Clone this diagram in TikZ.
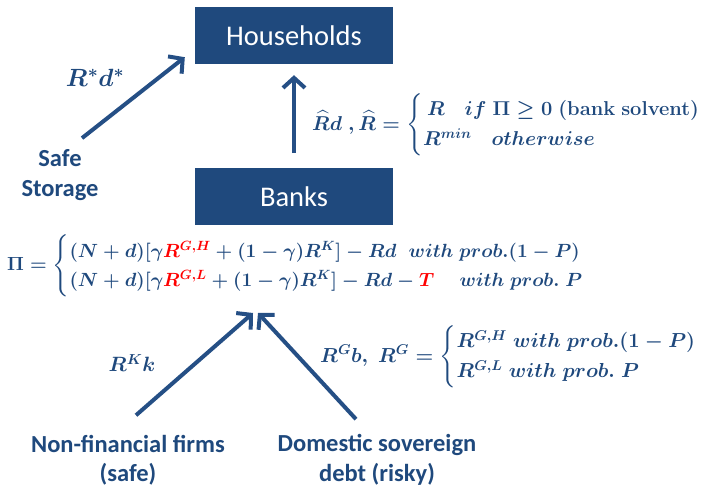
\RequirePackage{fix-cm}
\documentclass[tikz,border=0pt]{standalone}
\usepackage{fontspec}
\usepackage{amsmath}
\usepackage{xcolor}
\newfontfamily\calibri{Carlito}
\definecolor{navy}{RGB}{31,73,125}
\definecolor{arrowblue}{RGB}{37,79,133}
\usetikzlibrary{arrows.meta, positioning}

\begin{document}
\begin{tikzpicture}[
    x=1pt, y=1pt,
    agent/.style={rectangle, fill=navy, text=white, minimum width=198pt, minimum height=57pt, font=\calibri\fontsize{28.5}{30}\selectfont},
    source/.style={text=navy, align=center, font=\calibri\bfseries\fontsize{24.5}{29.5}\selectfont},
    eq/.style={text=navy, inner sep=0pt, font=\fontsize{20.3}{25}\selectfont\boldmath},
    arrow/.style={line width=4pt, draw=arrowblue, -{Straight Barb[length=10pt,width=22pt]}}
]
    \useasboundingbox (0,0) rectangle (708,487);
    \node[agent] (households) at (294,451.5) {Households};
    \node[agent, below=104pt of households] (banks) {Banks};
    \node[source] (storage) at (60,312) {Safe\\Storage};
    \node[source] (firms) at (128,27) {Non-financial firms\\(safe)};
    \node[source] (sovereign) at (377,27) {Domestic sovereign\\debt (risky)};

    % Returns
    \node[eq, anchor=west, font=\fontsize{19.1}{24}\selectfont\boldmath] (payoff) at (7,221) {$\Pi = \begin{cases} (N+d)[\gamma {\color{red}R^{G,H}} + (1-\gamma)R^{K}] - Rd\;\; with\ prob.(1-P) \\ (N+d)[\gamma {\color{red}R^{G,L}} + (1-\gamma)R^{K}] - Rd - {\color{red}T}\quad\; with\ prob.\ P \end{cases}$};
    \node[eq, anchor=west, font=\fontsize{20.1}{25}\selectfont\boldmath] (deposit) at (312,362) {$\widehat{R}d\ ,\widehat{R} = \begin{cases} \,R\quad if\ \Pi \geq 0\ \mathbf{(bank\ solvent)} \\ R^{min}\quad otherwise \end{cases}$};
    \node[eq, anchor=west] (bondret) at (320,130) {$R^{G}b,\ R^{G} = \begin{cases} R^{G,H}\ with\ prob.(1-P) \\ R^{G,L}\ with\ prob.\ P \end{cases}$};
    \node[eq, font=\fontsize{24.9}{28}\selectfont\boldmath] (storeret) at (95,409) {$R^{*}d^{*}$};
    \node[eq, font=\fontsize{20.7}{24}\selectfont\boldmath] (capret) at (132,124) {$R^{K}k$};

    \coordinate (join) at (255,174);

    % Arrows
    \draw[arrow] ([xshift=22pt,yshift=8pt]storage.north) -- ([xshift=-10pt,yshift=7pt]households.south west);
    \draw[arrow] ([yshift=15pt]banks.north) -- ([yshift=-11pt]households.south);
    \draw[arrow] ([xshift=8pt,yshift=16pt]firms.north) -- ([xshift=-2pt]join);
    \draw[arrow] ([xshift=-21pt,yshift=12pt]sovereign.north) -- ([xshift=3pt]join);
\end{tikzpicture}
\end{document}
